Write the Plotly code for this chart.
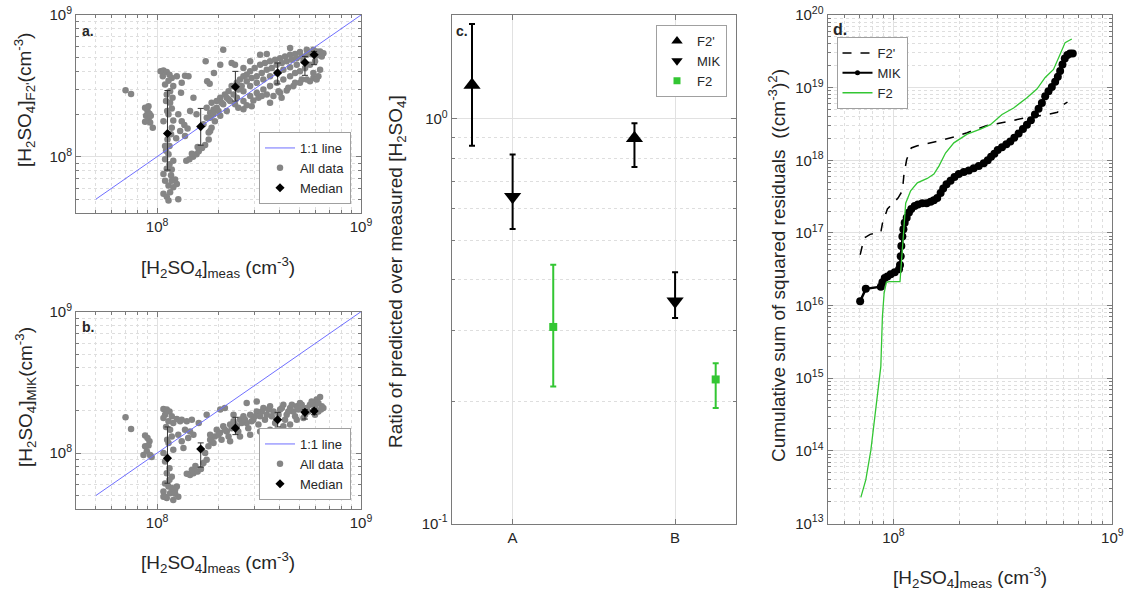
import plotly.graph_objects as go
import numpy as np

# ---------------- DATA ----------------
# Panel a: all data (units of 1e8 cm^-3)
a_meas = [0.70, 0.745, 0.873, 0.897, 0.917, 0.883, 0.907, 0.924, 0.952, 0.873, 0.907, 0.931,
          1.04, 1.074, 1.115, 1.15, 1.18, 1.137, 1.094, 1.20, 1.158, 1.066, 1.115, 1.19,
          1.158, 1.18, 1.137, 1.20, 1.18, 1.124, 1.15, 1.17, 1.106, 1.137,
          1.094, 1.15, 1.115, 1.17, 1.094, 1.137, 1.074, 1.158, 1.225, 1.27, 1.20, 1.18, 1.115, 1.249,
          1.249, 1.37, 1.425, 1.32, 1.31, 1.507, 1.451, 1.32, 1.36, 1.41, 1.37, 1.27, 1.24, 1.297,
          1.39, 1.44, 1.50, 1.56, 1.60, 1.66, 1.72, 1.48, 1.58, 1.79,
          1.687, 1.752, 1.82, 1.89, 1.75, 1.85, 1.96, 2.04, 1.96, 2.07, 2.15, 2.24, 2.195, 2.32,
          2.46, 2.55, 2.65, 2.75, 2.86, 3.01, 3.20, 3.38, 3.58, 3.79, 4.01, 4.24, 4.49, 4.75,
          5.02, 5.42, 5.84, 6.30, 6.54, 5.62, 6.06,
          2.28, 2.46, 2.65, 2.86, 3.08, 3.32, 3.58, 3.86, 4.16, 4.49, 4.84, 5.22,
          2.50, 2.75, 2.965, 3.14, 3.45, 3.72, 4.01, 4.32, 4.66, 5.02, 5.42, 5.84, 6.18, 5.62, 3.58, 4.08,
          2.11, 1.73, 1.76, 1.81, 2.04, 2.32, 2.41, 1.90, 1.56, 1.82, 3.20, 3.45, 2.86, 4.49, 2.65,
          1.82, 1.89, 2.00, 2.11, 2.24, 2.37, 2.50, 2.60, 2.75, 2.91, 3.08, 3.26, 3.45, 3.65, 3.86,
          4.09, 4.32, 4.58, 4.84, 5.12, 5.42, 5.73, 6.06, 6.42, 5.95, 5.62, 5.32, 5.02, 4.75, 4.49,
          4.16, 3.86, 3.58, 3.32, 3.08, 2.86, 2.65, 2.41, 2.195, 2.04, 1.92, 1.85, 1.79, 5.84, 6.30,
          6.06, 5.12, 4.75, 4.40, 3.94, 3.26, 2.91, 2.65,
          1.106, 1.12, 1.074, 1.094, 1.074, 1.20, 1.18, 1.137]
a_pred = [2.94, 2.77, 2.21, 2.10, 2.01, 1.94, 1.83, 1.74, 1.60, 1.76, 2.27, 1.94,
          4.00, 4.05, 3.96, 3.79, 3.59, 3.44, 3.23, 3.15, 2.90, 3.69, 2.75, 2.60,
          2.40, 2.19, 1.99, 1.80, 1.60, 1.32, 1.19, 1.44, 1.10, 1.04,
          0.96, 0.885, 0.82, 0.74, 0.677, 0.625, 0.546, 0.56, 0.69, 0.50, 0.608, 0.81, 0.52, 0.64,
          3.69, 3.72, 3.69, 3.32, 2.82, 2.60, 2.10, 1.78, 1.67, 1.58, 1.40, 1.99, 1.35, 1.52,
          0.935, 0.96, 1.00, 1.04, 1.09, 1.15, 1.21, 1.05, 1.17, 1.32,
          1.69, 1.88, 2.04, 2.15, 2.21, 2.40, 2.47, 2.60, 2.21, 2.40, 2.75, 2.90, 2.60, 3.15,
          3.32, 3.50, 3.69, 3.79, 4.00, 4.22, 4.46, 4.58, 4.71, 4.84, 4.96, 5.10, 5.24, 5.30,
          5.47, 5.68, 5.68, 5.53, 5.38, 5.38, 5.18,
          2.47, 2.60, 2.90, 3.15, 3.32, 3.50, 3.69, 3.89, 4.11, 4.27, 4.46, 4.71,
          2.21, 2.31, 2.49, 2.60, 2.75, 2.68, 2.83, 2.93, 3.15, 3.32, 3.50, 3.59, 3.69, 3.41, 2.40, 2.60,
          5.68, 4.71, 3.41, 3.27, 4.46, 4.58, 4.46, 3.89, 1.99, 1.52, 5.24, 5.30, 4.71, 5.84, 4.22,
          1.88, 1.99, 2.10, 2.34, 2.54, 2.75, 2.98, 3.15, 3.41, 3.59, 3.69, 3.89, 4.11, 4.22, 4.46,
          4.58, 4.71, 4.84, 4.96, 5.10, 5.24, 5.30, 5.53, 5.10, 4.71, 4.46, 4.22, 4.00, 3.89, 3.69,
          3.50, 3.32, 3.15, 2.98, 2.82, 2.68, 2.47, 2.34, 2.10, 1.94, 1.78, 1.60, 1.48, 3.89, 4.11,
          3.50, 3.50, 3.32, 3.06, 2.90, 2.68, 2.27, 2.16,
          2.47, 2.10, 1.78, 1.19, 0.754, 0.935, 0.677, 0.49]

# Panel b: all data (units of 1e8 cm^-3)
b_meas = [0.70, 0.745, 0.873, 0.897, 0.917, 0.873, 0.89, 0.924, 0.94, 0.857, 0.907,
          1.074, 1.115, 1.15, 1.094, 1.18, 1.074, 1.137, 1.20, 1.249, 1.297,
          1.158, 1.18, 1.137, 1.20, 1.094, 1.15, 1.115, 1.18,
          1.094, 1.137, 1.074, 1.158, 1.225, 1.27, 1.115, 1.20, 1.074, 1.249,
          1.32, 1.398, 1.48, 1.60, 1.75, 1.37, 1.42, 1.32, 1.346, 1.27, 1.45, 1.507,
          1.398, 1.45, 1.507, 1.58, 1.64, 1.54, 1.687, 1.75, 1.48,
          1.72, 1.785, 1.85, 1.82, 1.92, 1.96, 2.036, 2.11, 2.07, 2.195, 2.28, 2.37, 2.46, 2.55,
          2.65, 2.75, 2.86, 2.965, 3.08, 3.20, 3.32, 3.45, 3.58, 3.72, 3.86, 4.01, 4.16, 4.32,
          4.49, 4.66, 4.84, 5.02, 5.22, 5.42, 5.62, 5.84, 6.06, 6.30, 6.42, 6.18, 5.95,
          4.84, 4.49, 4.16, 3.58, 3.20, 2.86, 2.55, 2.28, 3.08, 2.75, 2.04, 2.15, 2.37,
          3.58, 3.86, 4.16, 5.22,
          1.82, 1.89, 2.00, 2.15, 2.24, 2.32, 2.41, 2.50, 2.60, 2.70, 2.80, 2.91, 3.02, 3.14,
          3.26, 3.38, 3.51, 3.65, 3.79, 3.94, 4.09, 4.24, 4.40, 4.58, 4.75, 4.93, 5.12, 5.32,
          5.52, 5.73, 5.95, 6.18, 6.36, 6.54,
          1.106, 1.12, 1.074, 1.15, 1.094, 1.18, 1.225]
b_pred = [1.79, 1.48, 1.33, 1.28, 1.21, 1.115, 1.03, 0.97, 0.937, 0.97, 1.13,
          2.05, 2.03, 1.97, 1.87, 1.82, 1.77, 1.68, 1.63, 1.74, 1.68,
          1.46, 1.31, 1.18, 1.056, 0.87, 0.78, 0.72, 0.68,
          0.61, 0.58, 0.535, 0.52, 0.55, 0.49, 0.48, 0.466, 0.49, 0.58,
          1.72, 1.68, 1.72, 1.63, 1.87, 1.46, 1.28, 1.21, 1.085, 1.35, 1.42, 1.35,
          0.715, 0.70, 0.72, 0.74, 0.77, 0.81, 0.85, 0.897, 0.76,
          1.00, 1.115, 1.21, 1.35, 1.31, 1.46, 1.39, 1.55, 1.24, 1.42, 1.59, 1.68, 1.55, 1.72,
          1.82, 1.63, 1.87, 1.72, 1.97, 1.82, 2.08, 1.87, 2.14, 1.97, 1.72, 2.03, 2.20, 1.87,
          2.08, 1.97, 2.14, 2.26, 2.03, 2.08, 2.20, 2.26, 2.39, 2.49, 2.14, 1.97, 1.87,
          1.72, 1.59, 1.55, 1.46, 1.42, 1.35, 1.31, 1.21, 2.32, 2.26, 2.03, 2.08, 1.87,
          1.24, 1.35, 1.39, 1.77,
          1.24, 1.18, 1.35, 1.46, 1.31, 1.50, 1.59, 1.42, 1.63, 1.72, 1.50, 1.68, 1.82, 1.59,
          1.97, 1.72, 2.03, 1.82, 1.63, 1.87, 2.08, 1.72, 1.97, 2.20, 1.82, 2.03, 2.20, 1.87,
          1.97, 2.32, 2.14, 2.26, 2.03, 2.08,
          1.53, 1.24, 1.00, 0.647, 0.49, 0.565, 0.515]

# Medians (units of 1e8 cm^-3)
med_meas = [1.124, 1.636, 2.42, 3.90, 5.31, 5.89]
a_med = [1.455, 1.63, 3.11, 3.90, 4.62, 5.24]
a_med_hi = [2.93, 2.19, 4.00, 4.58, 5.10, 5.53]
a_med_lo = [0.804, 1.205, 2.47, 3.26, 3.75, 4.46]
b_med = [0.92, 1.068, 1.50, 1.72, 1.94, 1.98]
b_med_hi = [1.53, 1.18, 1.79, 1.94, 2.03, 2.06]
b_med_lo = [0.612, 0.795, 1.35, 1.53, 1.74, 1.87]

one_to_one = [0.5, 10.0]  # 1e8 units

# Panel c: ratio predicted / measured
cases = ["A", "B"]
c_f2p = [1.213, 0.896]
c_f2p_hi = [1.715, 0.976]
c_f2p_lo = [0.858, 0.760]
c_mik = [0.642, 0.354]
c_mik_hi = [0.817, 0.418]
c_mik_lo = [0.534, 0.322]
c_f2 = [0.306, 0.227]
c_f2_hi = [0.436, 0.249]
c_f2_lo = [0.218, 0.193]

# Panel d: cumulative sum of squared residuals (x in 1e8 cm^-3, y as log10)
d_f2p_x = [0.705, 0.735, 0.783, 0.876, 0.891, 0.939, 1.050, 1.099, 1.118, 1.150, 1.207, 1.286,
           1.586, 1.889, 2.173, 2.679, 3.304, 4.074, 5.023, 5.618, 5.94, 6.24]
d_f2p_log = [16.70, 16.93, 16.98, 17.01, 17.13, 17.33, 17.48, 17.58, 17.81, 18.01, 18.17, 18.20,
             18.26, 18.32, 18.38, 18.48, 18.53, 18.59, 18.63, 18.66, 18.76, 18.80]
d_mik_x = [0.705, 0.748, 0.876, 0.891, 0.913, 0.939, 0.972, 1.014, 1.061, 1.072, 1.080, 1.087,
           1.099, 1.111, 1.126, 1.150, 1.178, 1.207, 1.251, 1.295, 1.355, 1.418, 1.479, 1.531,
           1.586, 1.643, 1.689, 1.749, 1.824, 1.902, 1.990, 2.097, 2.211, 2.329, 2.455, 2.587,
           2.698, 2.794, 2.893, 2.996, 3.135, 3.281, 3.421, 3.568, 3.734, 3.907, 4.074, 4.249,
           4.431, 4.604, 4.768, 4.937, 5.112, 5.294, 5.483, 5.638, 5.778, 5.921, 6.067, 6.239,
           6.416, 6.598]
d_mik_log = [16.06, 16.23, 16.26, 16.32, 16.38, 16.40, 16.43, 16.46, 16.50, 16.56, 16.68, 16.82,
             16.95, 17.05, 17.14, 17.21, 17.28, 17.33, 17.37, 17.39, 17.41, 17.41, 17.43, 17.45,
             17.48, 17.55, 17.61, 17.67, 17.72, 17.77, 17.81, 17.84, 17.86, 17.89, 17.92, 17.96,
             18.00, 18.05, 18.09, 18.14, 18.18, 18.22, 18.26, 18.31, 18.37, 18.43, 18.49, 18.55,
             18.63, 18.71, 18.79, 18.88, 18.95, 19.01, 19.08, 19.15, 19.23, 19.32, 19.40, 19.45,
             19.47, 19.47]
d_f2_x = [0.710, 0.748, 0.789, 0.831, 0.876, 0.891, 0.907, 0.929, 0.956, 1.072, 1.091, 1.118,
          1.138, 1.199, 1.286, 1.428, 1.531, 1.614, 1.730, 1.889, 2.173, 2.498, 2.774, 3.135,
          3.542, 4.074, 4.524, 4.937, 5.388, 5.737, 6.088, 6.53]
d_f2_log = [13.36, 13.60, 14.01, 14.57, 15.16, 15.85, 16.17, 16.32, 16.33, 16.33, 16.63, 17.09,
            17.41, 17.58, 17.69, 17.75, 17.81, 17.92, 18.10, 18.24, 18.36, 18.43, 18.49, 18.63,
            18.72, 18.86, 18.98, 19.14, 19.25, 19.44, 19.62, 19.67]

# ---------------- STYLE ----------------
W, H = 1132, 592
FONT = "Liberation Sans, Arial, Helvetica, sans-serif"
TXT = "#262626"
AXLINE = "#7a7a7a"
GRID = "#e1e1e1"
MINOR = "#dedede"
GREEN = "#33c633"
GRAYPT = "#858585"
BLUE = "#6f6fff"
TICKF = 15
TITLEF = 19
LEGF = 13

def px2x(p):
    return p / W

def px2y(p):
    return 1 - p / H

E8 = 1e8
sc = lambda v: [float(x) * E8 for x in v]

fig = go.Figure()

# ---- panel a ----
fig.add_trace(go.Scatter(x=sc(a_meas), y=sc(a_pred), mode="markers", name="All data",
                         marker=dict(color=GRAYPT, size=6.5), xaxis="x", yaxis="y",
                         legend="legend", legendrank=2))
fig.add_trace(go.Scatter(x=sc(one_to_one), y=sc(one_to_one), mode="lines", name="1:1 line",
                         line=dict(color=BLUE, width=1), xaxis="x", yaxis="y",
                         legend="legend", legendrank=1))
fig.add_trace(go.Scatter(x=sc(med_meas), y=sc(a_med), mode="markers", name="Median",
                         marker=dict(color="black", size=7, symbol="diamond"),
                         error_y=dict(type="data", symmetric=False,
                                      array=[(h - m) * E8 for h, m in zip(a_med_hi, a_med)],
                                      arrayminus=[(m - l) * E8 for m, l in zip(a_med, a_med_lo)],
                                      color="#333333", thickness=1, width=3),
                         xaxis="x", yaxis="y", legend="legend", legendrank=3))

# ---- panel b ----
fig.add_trace(go.Scatter(x=sc(b_meas), y=sc(b_pred), mode="markers", name="All data",
                         marker=dict(color=GRAYPT, size=6.5), xaxis="x2", yaxis="y2",
                         legend="legend2", legendrank=2))
fig.add_trace(go.Scatter(x=sc(one_to_one), y=sc(one_to_one), mode="lines", name="1:1 line",
                         line=dict(color=BLUE, width=1), xaxis="x2", yaxis="y2",
                         legend="legend2", legendrank=1))
fig.add_trace(go.Scatter(x=sc(med_meas), y=sc(b_med), mode="markers", name="Median",
                         marker=dict(color="black", size=7, symbol="diamond"),
                         error_y=dict(type="data", symmetric=False,
                                      array=[(h - m) * E8 for h, m in zip(b_med_hi, b_med)],
                                      arrayminus=[(m - l) * E8 for m, l in zip(b_med, b_med_lo)],
                                      color="#333333", thickness=1, width=3),
                         xaxis="x2", yaxis="y2", legend="legend2", legendrank=3))

# ---- panel c ----
pos = [1.0, 2.0]
for vals, hi, lo, name, sym, col, off, msize, lsize in [
        (c_f2p, c_f2p_hi, c_f2p_lo, "F2'", "triangle-up", "black", -0.25, 15, 10),
        (c_mik, c_mik_hi, c_mik_lo, "MIK", "triangle-down", "black", 0.0, 15, 10),
        (c_f2, c_f2_hi, c_f2_lo, "F2", "square", GREEN, 0.25, 8, 7)]:
    fig.add_trace(go.Scatter(x=[p + off for p in pos], y=vals, mode="markers", name=name,
                             marker=dict(color=col, size=msize, symbol=sym),
                             error_y=dict(type="data", symmetric=False,
                                          array=[h - v for h, v in zip(hi, vals)],
                                          arrayminus=[v - l for v, l in zip(vals, lo)],
                                          color=col, thickness=2, width=3),
                             xaxis="x3", yaxis="y3", showlegend=False))
    # legend entry (no data drawn)
    fig.add_trace(go.Scatter(x=[None], y=[None], mode="markers", name=name,
                             marker=dict(color=col, size=lsize, symbol=sym),
                             xaxis="x3", yaxis="y3", legend="legend3"))

# ---- panel d ----
fig.add_trace(go.Scatter(x=sc(d_f2p_x), y=[10.0 ** v for v in d_f2p_log], mode="lines", name="F2'",
                         line=dict(color="black", width=1.5, dash="dash"),
                         xaxis="x4", yaxis="y4", legend="legend4"))
fig.add_trace(go.Scatter(x=sc(d_mik_x), y=[10.0 ** v for v in d_mik_log], mode="lines+markers",
                         name="MIK", line=dict(color="black", width=2.5),
                         marker=dict(color="black", size=8),
                         xaxis="x4", yaxis="y4", showlegend=False))
fig.add_trace(go.Scatter(x=[None], y=[None], mode="lines+markers", name="MIK",
                         line=dict(color="black", width=2), marker=dict(color="black", size=5),
                         xaxis="x4", yaxis="y4", legend="legend4"))
fig.add_trace(go.Scatter(x=sc(d_f2_x), y=[10.0 ** v for v in d_f2_log], mode="lines", name="F2",
                         line=dict(color=GREEN, width=1.3),
                         xaxis="x4", yaxis="y4", legend="legend4"))

# ---------------- AXES ----------------
def minor_vals(lo_exp, hi_exp):
    return [float(m) * 10.0 ** e for e in range(lo_exp, hi_exp) for m in range(2, 10)]

def log_axis(domain, rng, major_exps, anchor, minor_lo, minor_hi):
    tv = [10.0 ** e for e in major_exps]
    tt = [f"10<sup>{e}</sup>" for e in major_exps]
    return dict(domain=domain, type="log", range=[float(r) for r in rng], anchor=anchor,
                automargin=False,
                tickmode="array", tickvals=tv, ticktext=tt,
                showline=True, linecolor=AXLINE, linewidth=1, mirror="ticks",
                ticks="inside", ticklen=5, tickcolor=AXLINE,
                showgrid=True, gridcolor=GRID, gridwidth=1, zeroline=False,
                minor=dict(tickmode="array", tickvals=minor_vals(minor_lo, minor_hi),
                           ticks="inside", ticklen=3, tickcolor=AXLINE,
                           showgrid=True, gridcolor=MINOR, griddash="dot", gridwidth=1),
                tickfont=dict(family=FONT, size=TICKF, color=TXT))

xa_dom = [px2x(76), px2x(361)]
ya_dom = [px2y(213), px2y(15)]
yb_dom = [px2y(509.3), px2y(311.7)]
xc_dom = [px2x(451.7), px2x(736)]
yc_dom = [px2y(523.5), px2y(15)]
xd_dom = [px2x(827.5), px2x(1112.3)]

lr_ab = [np.log10(4e7), 9]
fig.update_layout(
    xaxis=log_axis(xa_dom, lr_ab, [8, 9], "y", 7, 9),
    yaxis=log_axis(ya_dom, lr_ab, [8, 9], "x", 7, 9),
    xaxis2=log_axis(xa_dom, lr_ab, [8, 9], "y2", 7, 9),
    yaxis2=log_axis(yb_dom, lr_ab, [8, 9], "x2", 7, 9),
    xaxis3=dict(domain=xc_dom, range=[0.625, 2.375], anchor="y3", automargin=False,
                tickmode="array", tickvals=pos, ticktext=cases,
                showline=True, linecolor=AXLINE, linewidth=1, mirror="ticks",
                ticks="inside", ticklen=5, tickcolor=AXLINE,
                showgrid=True, gridcolor=GRID, zeroline=False,
                tickfont=dict(family=FONT, size=TICKF, color=TXT)),
    yaxis3=log_axis(yc_dom, [-1, np.log10(1.806)], [-1, 0], "x3", -1, 0),
    xaxis4=log_axis(xd_dom, [np.log10(5e7), 9], [8, 9], "y4", 7, 9),
    yaxis4=log_axis(yc_dom, [13, 20], list(range(13, 21)), "x4", 13, 20),
)

# ---------------- LEGENDS ----------------
def legend_style(x, y, xanchor, yanchor):
    return dict(x=x, y=y, xanchor=xanchor, yanchor=yanchor, xref="paper", yref="paper",
                bgcolor="white", bordercolor="#a0a0a0", borderwidth=1,
                font=dict(family=FONT, size=LEGF, color=TXT), tracegroupgap=0,
                itemwidth=30)

fig.update_layout(
    legend=legend_style(px2x(351), px2y(204), "right", "bottom"),
    legend2=legend_style(px2x(351), px2y(500), "right", "bottom"),
    legend3=legend_style(px2x(727), px2y(25), "right", "top"),
    legend4=legend_style(px2x(836.5), px2y(37), "left", "top"),
)

# ---------------- TEXT ----------------
meas_title = "[H<sub>2</sub>SO<sub>4</sub>]<sub>meas</sub> (cm<sup>-3</sup>)"
annotations = [
    dict(text="<b>a.</b>", x=px2x(80), y=px2y(21), xanchor="left", yanchor="top", font_size=14),
    dict(text="<b>b.</b>", x=px2x(80), y=px2y(317), xanchor="left", yanchor="top", font_size=14),
    dict(text="<b>c.</b>", x=px2x(454), y=px2y(21), xanchor="left", yanchor="top", font_size=14),
    dict(text="<b>d.</b>", x=px2x(831), y=px2y(19), xanchor="left", yanchor="top", font_size=16),
    dict(text=meas_title, x=px2x(218), y=px2y(268), xanchor="center", yanchor="middle", font_size=TITLEF),
    dict(text=meas_title, x=px2x(218), y=px2y(562), xanchor="center", yanchor="middle", font_size=TITLEF),
    dict(text=meas_title, x=px2x(970), y=px2y(577), xanchor="center", yanchor="middle", font_size=TITLEF),
    dict(text="[H<sub>2</sub>SO<sub>4</sub>]<sub>F2'</sub>(cm<sup>-3</sup>)", x=px2x(25), y=px2y(100),
         xanchor="center", yanchor="middle", textangle=-90, font_size=TITLEF),
    dict(text="[H<sub>2</sub>SO<sub>4</sub>]<sub>MIK</sub>(cm<sup>-3</sup>)", x=px2x(25), y=px2y(397),
         xanchor="center", yanchor="middle", textangle=-90, font_size=TITLEF),
    dict(text="Ratio of predicted over measured [H<sub>2</sub>SO<sub>4</sub>]", x=px2x(397), y=px2y(272),
         xanchor="center", yanchor="middle", textangle=-90, font_size=TITLEF),
    dict(text="Cumulative sum of squared residuals  ((cm<sup>-3</sup>)<sup>2</sup>)", x=px2x(777), y=px2y(266),
         xanchor="center", yanchor="middle", textangle=-90, font_size=TITLEF),
]
for a in annotations:
    a.update(xref="paper", yref="paper", showarrow=False)
    a["font"] = dict(family=FONT, size=a.pop("font_size"), color=TXT)

fig.update_layout(
    annotations=annotations,
    width=W, height=H,
    margin=dict(l=0, r=0, t=0, b=0, autoexpand=False),
    paper_bgcolor="white", plot_bgcolor="white",
    font=dict(family=FONT, color=TXT),
    showlegend=True,
)

fig.write_html("out.html",
               config={"displayModeBar": False},
               post_script="document.body.style.margin='0';document.body.style.padding='0';"
                           "document.body.style.overflow='hidden';")
